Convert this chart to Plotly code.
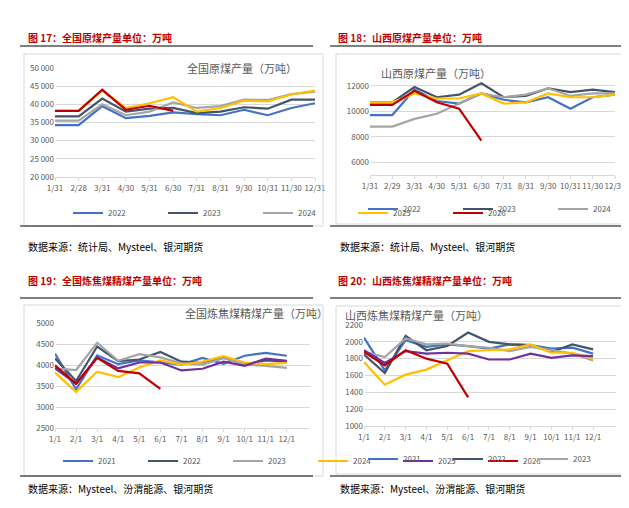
import plotly.graph_objects as go

W, H = 629, 508

# chart 17: national raw coal output
c17_x = ["1/31", "2/28", "3/31", "4/30", "5/31", "6/30", "7/31", "8/31", "9/30", "10/31", "11/30", "12/31"]
c17 = {
    "2022": [34300, 34300, 39500, 36200, 36800, 37800, 37300, 37000, 38500, 37000, 39000, 40300],
    "2023": [36700, 36700, 41600, 38000, 38800, 39000, 37600, 38000, 39200, 38800, 41300, 41300],
    "2024": [35500, 35500, 40000, 37000, 38000, 40500, 39000, 39500, 41300, 41200, 42800, 43500],
    "2025": [38200, 38200, 43800, 39000, 40300, 42000, 38000, 39000, 41000, 40800, 42700, 43800],
    "2026": [38200, 38200, 44000, 38500, 39600, 38200],
}
# chart 18: Shanxi raw coal output
c18_x = ["1/31", "2/29", "3/31", "4/30", "5/31", "6/30", "7/31", "8/31", "9/30", "10/31", "11/30", "12/31"]
c18 = {
    "2022": [9700, 9700, 11700, 10800, 10600, 11400, 10900, 10700, 11100, 10200, 11100, 11300],
    "2023": [10700, 10700, 11900, 11100, 11300, 12200, 11100, 11200, 11800, 11500, 11700, 11500],
    "2024": [8800, 8800, 9400, 9800, 10600, 11400, 11100, 11300, 11800, 11200, 11400, 11400],
    "2025": [10700, 10700, 11400, 11000, 11000, 11400, 10600, 10700, 11400, 11100, 11100, 11300],
    "2026": [10500, 10500, 11600, 10700, 10200, 7700],
}
# chart 19 / 20: coking clean coal
c19_x = ["1/1", "2/1", "3/1", "4/1", "5/1", "6/1", "7/1", "8/1", "9/1", "10/1", "11/1", "12/1"]
c19 = {
    "2021": [4270, 3420, 4230, 4020, 4110, 4060, 4010, 4170, 4030, 4220, 4290, 4220],
    "2022": [4160, 3620, 4440, 4090, 4130, 4310, 4080, 4060, 4180, 4010, 4110, 4080],
    "2023": [3920, 3880, 4530, 4100, 4260, 4180, 4040, 4010, 4160, 4010, 3980, 3930],
    "2024": [3820, 3360, 3840, 3710, 3940, 4110, 4010, 4080, 4210, 4060, 4020, 4050],
    "2025": [3920, 3560, 4180, 3920, 4060, 4060, 3870, 3910, 4080, 3980, 4150, 4100],
    "2026": [3990, 3550, 4170, 3860, 3800, 3430],
}
c20 = {
    "2021": [2050, 1660, 2020, 1940, 1970, 1950, 1920, 1970, 1960, 1920, 1930, 1860],
    "2022": [1850, 1630, 2070, 1900, 1950, 2110, 2000, 1970, 1960, 1880, 1970, 1910],
    "2023": [1880, 1820, 2040, 1970, 1980, 1950, 1930, 1890, 1940, 1900, 1860, 1780],
    "2024": [1760, 1490, 1610, 1670, 1780, 1890, 1900, 1910, 1970, 1870, 1870, 1800],
    "2025": [1900, 1750, 1890, 1860, 1870, 1860, 1790, 1790, 1860, 1810, 1840, 1830],
    "2026": [1880, 1720, 1900, 1800, 1740, 1340],
}

top_colors = {"2022": "#4472C4", "2023": "#44546A", "2024": "#A5A5A5", "2025": "#FFC000", "2026": "#C00000"}
bot_colors = {"2021": "#4472C4", "2022": "#44546A", "2023": "#A5A5A5", "2024": "#FFC000",
              "2025": "#7030A0", "2026": "#C00000"}

FONT = "Noto Sans CJK SC"

def px_x(p):
    return p / W

def px_y(p):
    return 1 - p / H

fig = go.Figure()

panels = [
    (c17, c17_x, top_colors, "", (47, 307), (60, 169), [20000, 50000], 5000, 11, "legend"),
    (c18, c18_x, top_colors, "2", (362, 607), (65, 167), [5000, 13000], 2000, 11, "legend2"),
    (c19, c19_x, bot_colors, "3", (47, 302), (315, 420), [2500, 5000], 500, 12.1, "legend3"),
    (c20, c19_x, bot_colors, "4", (356, 608), (317, 418), [1000, 2200], 200, 12.1, "legend4"),
]
titles = ["全国原煤产量（万吨）", "山西原煤产量（万吨）", "全国炼焦煤精煤产量（万吨）", "山西炼焦煤精煤产量（万吨）"]
legend_pos = [(60, 205), (355, 201), (50, 453), (355, 451)]

for i, (data, labels, colors, sfx, xr, yr, yrange, dt, xmax, leg) in enumerate(panels):
    for name, vals in data.items():
        fig.add_trace(go.Scatter(
            x=list(range(len(vals))), y=vals, name=name, mode="lines",
            line=dict(color=colors[name], width=2.2),
            xaxis="x" + sfx, yaxis="y" + sfx, legend=leg))
    fig.layout["xaxis" + sfx] = dict(
        domain=[px_x(xr[0]), px_x(xr[1])], anchor="y" + sfx, range=[0, xmax],
        tickmode="array", tickvals=list(range(12)), ticktext=labels, tickangle=0,
        showgrid=False, showline=True, linecolor="#D9D9D9", ticks="outside",
        tickcolor="#D9D9D9", ticklen=3, tickfont=dict(size=8, color="#595959"),
        automargin=False)
    fig.layout["yaxis" + sfx] = dict(
        domain=[px_y(yr[1]), px_y(yr[0])], anchor="x" + sfx, range=yrange, dtick=dt,
        showgrid=True, gridcolor="#D9D9D9", zeroline=False,
        tickformat=",d" if i == 0 else "d",
        tickfont=dict(size=8, color="#595959"), automargin=False)
    n = len(data)
    fig.layout[leg] = dict(
        orientation="h", x=px_x(legend_pos[i][0]), xanchor="left",
        y=px_y(legend_pos[i][1]), yanchor="middle", font=dict(size=8, color="#595959"),
        itemwidth=30, entrywidth=(250 if n == 5 else 245) // n - 0, entrywidthmode="pixels",
        bgcolor="rgba(0,0,0,0)")
    fig.add_annotation(text=titles[i], xref="paper", yref="paper",
                       x=(px_x(xr[0]) + px_x(xr[1])) / 2, y=px_y(yr[0] - 10),
                       showarrow=False, font=dict(size=11, color="#595959"))

fig.update_layout(separators=". ")

headers = [("图 17：全国原煤产量单位：万吨", 18, 20), ("图 18：山西原煤产量单位：万吨", 328, 20),
           ("图 19：全国炼焦煤精煤产量单位：万吨", 18, 272), ("图 20：山西炼焦煤精煤产量单位：万吨", 328, 272)]
for t, x, y in headers:
    fig.add_annotation(text="<b>" + t + "</b>", xref="paper", yref="paper", x=px_x(x), y=px_y(y),
                       xanchor="left", showarrow=False, font=dict(size=10, color="#C00000"))

sources = [("数据来源：统计局、Mysteel、银河期货", 18, 238), ("数据来源：统计局、Mysteel、银河期货", 330, 238),
           ("数据来源：Mysteel、汾渭能源、银河期货", 18, 490), ("数据来源：Mysteel、汾渭能源、银河期货", 330, 490)]
for t, x, y in sources:
    fig.add_annotation(text=t, xref="paper", yref="paper", x=px_x(x), y=px_y(y),
                       xanchor="left", showarrow=False, font=dict(size=10, color="#000000"))

shapes = []
for x0, x1, y0, y1 in [(16, 315, 46, 218), (328, 620, 46, 216), (16, 315, 297, 468), (328, 620, 298, 466)]:
    shapes.append(dict(type="rect", xref="paper", yref="paper", x0=px_x(x0), x1=px_x(x1),
                       y0=px_y(y1), y1=px_y(y0), line=dict(color="#D9D9D9", width=1)))
for x0, x1, y in [(12, 305, 38), (322, 615, 38), (12, 305, 218), (322, 615, 218),
                  (12, 305, 290), (322, 615, 290), (12, 305, 468), (322, 615, 468)]:
    shapes.append(dict(type="line", xref="paper", yref="paper", x0=px_x(x0), x1=px_x(x1),
                       y0=px_y(y), y1=px_y(y), line=dict(color="#000000", width=1)))
fig.update_layout(shapes=shapes)

fig.update_layout(width=W, height=H, margin=dict(l=0, r=0, t=0, b=0, autoexpand=False),
                  paper_bgcolor="white", plot_bgcolor="white",
                  font=dict(family=FONT), showlegend=True)

fig.write_html("out.html")
